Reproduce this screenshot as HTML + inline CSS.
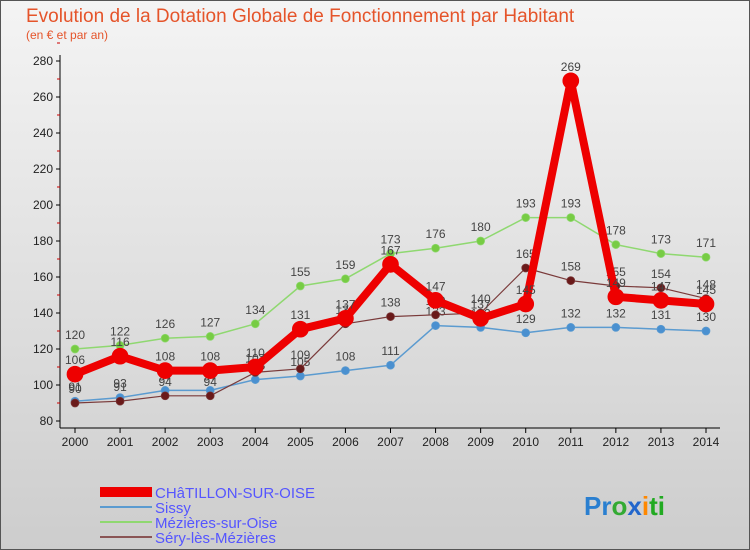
<!DOCTYPE html>
<html><head><meta charset="utf-8"><style>
body{margin:0;width:750px;height:550px;overflow:hidden;font-family:"Liberation Sans",sans-serif}
svg{display:block}
</style></head><body>
<svg id="c" width="750" height="550" xmlns="http://www.w3.org/2000/svg">
<defs><linearGradient id="bg" x1="0" y1="0" x2="0" y2="1"><stop offset="0" stop-color="#f4f4f4"/><stop offset="1" stop-color="#cdcdcd"/></linearGradient></defs>
<rect x="0.5" y="0.5" width="749" height="549" fill="url(#bg)" stroke="#555"/>
<text x="26" y="22" font-size="19" fill="#e5542a">Evolution de la Dotation Globale de Fonctionnement par Habitant</text>
<text x="26" y="39" font-size="12" fill="#e5542a">(en € et par an)</text>
<g id="axes"></g><g id="series"></g>
<g>
<rect x="100" y="487" width="52" height="10" fill="#e00"/>
<text x="155" y="498" font-size="15" fill="#55f">CHâTILLON-SUR-OISE</text>
<rect x="100" y="506" width="52" height="2" fill="#5b9bd0"/>
<text x="155" y="513" font-size="15" fill="#55f">Sissy</text>
<rect x="100" y="521" width="52" height="2" fill="#8fd870"/>
<text x="155" y="528" font-size="15" fill="#55f">Mézières-sur-Oise</text>
<rect x="100" y="536" width="52" height="2" fill="#8a5555"/>
<text x="155" y="543" font-size="15" fill="#55f">Séry-lès-Mézières</text>
</g>
<text x="584" y="515" font-size="26" font-weight="bold"><tspan fill="#2a7fd0">Pr</tspan><tspan fill="#3a3">o</tspan><tspan fill="#26c">x</tspan><tspan fill="#f80">i</tspan><tspan fill="#2a2">ti</tspan></text>
</svg>
<script>
const years=[2000,2001,2002,2003,2004,2005,2006,2007,2008,2009,2010,2011,2012,2013,2014];
const yTicks=[80,100,120,140,160,180,200,220,240,260,280];
const chatillon=[106,116,108,108,110,131,137,167,147,137,145,269,149,147,145];
const sissy=[91,93,97,97,103,105,108,111,133,132,129,132,132,131,130];
const mezieres=[120,122,126,127,134,155,159,173,176,180,193,193,178,173,171];
const sery=[90,91,94,94,107,109,134,138,139,140,165,158,155,154,148];
const NS="http://www.w3.org/2000/svg";
const X=i=>75+i*(706-75)/(years.length-1);
const Y=v=>421-(v-80)*1.8;
function mk(t,a,p){const e=document.createElementNS(NS,t);for(const k in a)e.setAttribute(k,a[k]);p.appendChild(e);return e;}
const ax=document.getElementById('axes');
const yl=mk('line',{x1:60,y1:55,x2:60,y2:428,stroke:'#000'},ax);


const xl=mk('line',{x1:60,y1:428,x2:720,y2:428,stroke:'#000'},ax);


yTicks.forEach(v=>{
 mk('line',{x1:56,x2:60,y1:Y(v),y2:Y(v),stroke:'#000'},ax);
 mk('line',{x1:57,x2:60,y1:Y(v+10),y2:Y(v+10),stroke:'#c00'},ax);
 const t=mk('text',{x:53,y:Y(v)+4,'font-size':12,'text-anchor':'end',fill:'#222'},ax);t.textContent=v;
 
 
});
years.forEach((y,i)=>{
 mk('line',{x1:X(i),x2:X(i),y1:428,y2:433,stroke:'#000'},ax);
 const t=mk('text',{x:X(i),y:446,'font-size':12,'text-anchor':'middle',fill:'#222'},ax);t.textContent=y;
 
 
});
const sg=document.getElementById('series');
function draw(data,color,w,r,dot,name){
 const g=mk('g',{},sg);
 
 
 const pl=mk('polyline',{points:data.map((v,i)=>X(i)+','+Y(v)).join(' '),fill:'none',stroke:color,'stroke-width':w,'stroke-linejoin':'round'},g);
 
 
 data.forEach((v,i)=>{
  const c=mk('circle',{cx:X(i),cy:Y(v),r:r,fill:dot,stroke:color,'stroke-width':0.7},g);
  
  
  const t=mk('text',{x:X(i),y:Y(v)-10,'font-size':12,'text-anchor':'middle',fill:'#444'},g);t.textContent=v;
  
  
 });
}
draw(mezieres,'#8fd870',1.5,4,'#77cc44','mezieres');
draw(sissy,'#5b9bd0',1.5,4,'#4a90d0','sissy');
draw(sery,'#7a3a3a',1.2,4,'#6a1a1a','sery');
draw(chatillon,'#ee0000',8,8,'#ee0000','chatillon');
</script>
</body></html>
